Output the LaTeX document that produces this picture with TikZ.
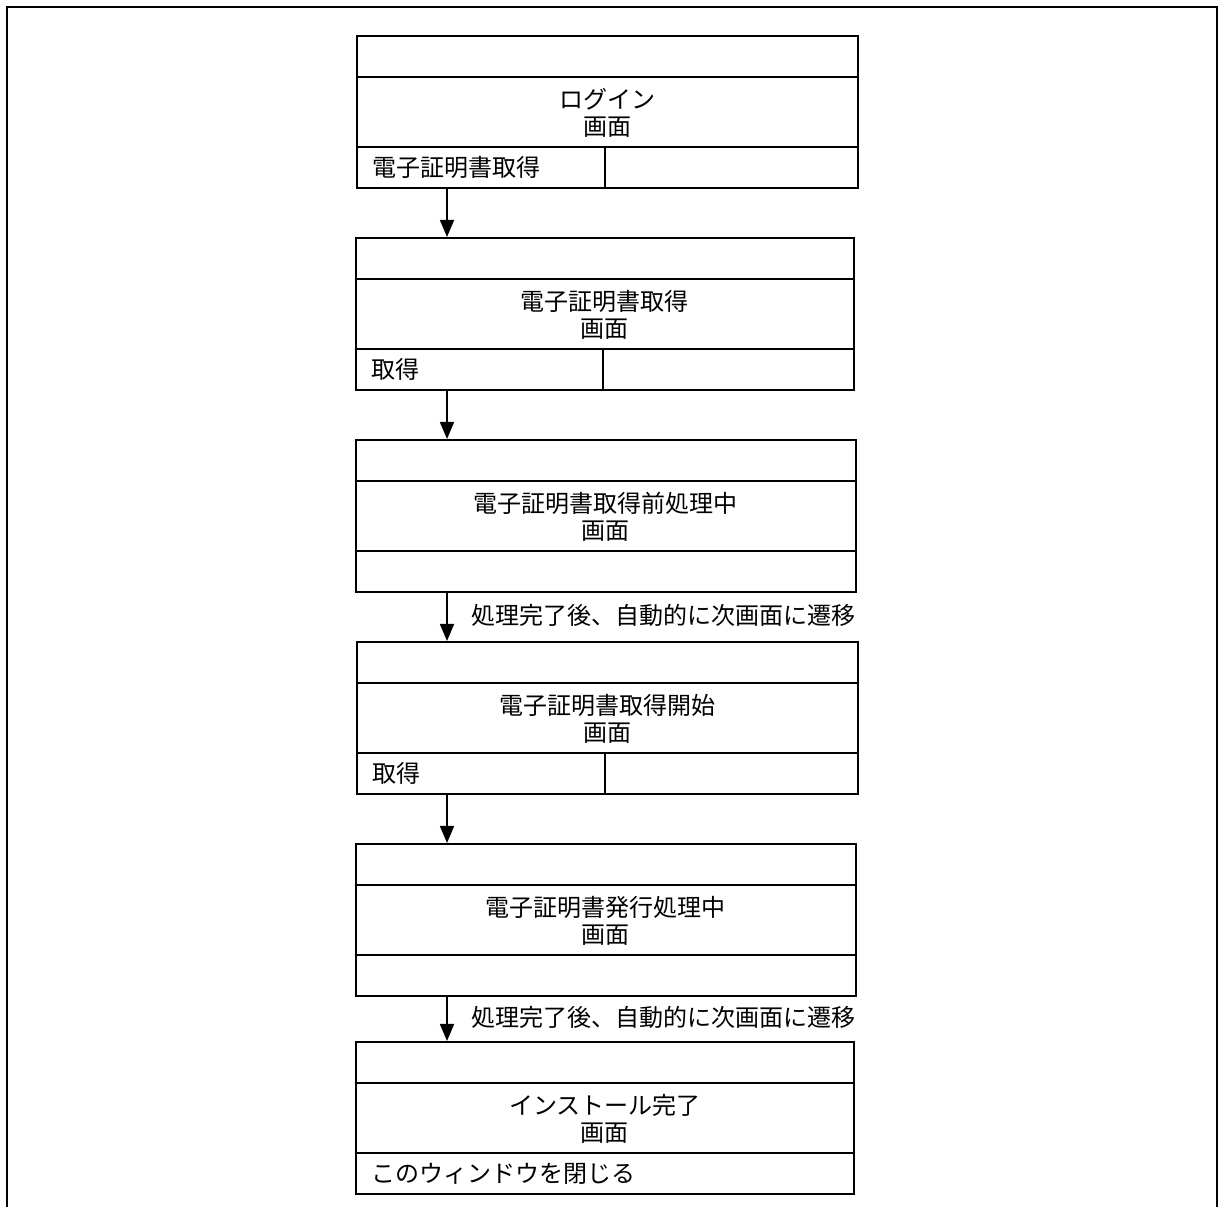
\documentclass[tikz,border=0pt]{standalone}
\usepackage{fontspec}
\newfontfamily\jp{Noto Sans CJK JP}
\usetikzlibrary{arrows.meta,positioning}
\tikzset{
  scr/.style={draw, line width=1.8pt, rectangle, minimum height=152pt, inner sep=0pt, anchor=north west},
  sep/.style={line width=1.8pt},
  ttl/.style={font=\jp\fontsize{24}{27}\selectfont, align=center, inner sep=0pt},
  btn/.style={font=\jp\fontsize{24}{27}\selectfont, anchor=west, inner sep=0pt},
  arr/.style={line width=1.8pt, -{Triangle[width=14pt,length=17pt]}},
  lbl/.style={font=\jp\fontsize{24}{27}\selectfont, anchor=west, inner sep=0pt},
  frm/.style={line width=2pt}
}
\begin{document}
\begin{tikzpicture}[x=1pt,y=1pt]
\useasboundingbox (0,0) rectangle (1219,1207);
% outer frame (open at bottom)
\coordinate (f1) at (7,0);
\coordinate (f2) at (7,1200);
\coordinate (f3) at (1217,1200);
\coordinate (f4) at (1217,0);
\draw[frm] (f1) -- (f2) -- (f3) -- (f4);

% boxes
\node[scr, minimum width=501pt] (b1) at (356,1172) {};
\node[scr, minimum width=498pt] (b2) at (355,970) {};
\node[scr, minimum width=500pt] (b3) at (355,768) {};
\node[scr, minimum width=501pt] (b4) at (356,566) {};
\node[scr, minimum width=500pt] (b5) at (355,364) {};
\node[scr, minimum width=498pt] (b6) at (355,166) {};

\foreach \b in {b1,b2,b3,b4,b5,b6}{
  \draw[sep] ([yshift=-42pt]\b.north west) -- ([yshift=-42pt]\b.north east);
  \draw[sep] ([yshift=42pt]\b.south west) -- ([yshift=42pt]\b.south east);
}
% vertical dividers in button rows
\draw[sep] ([xshift=249pt]b1.south west) -- ([xshift=249pt,yshift=42pt]b1.south west);
\draw[sep] ([xshift=248pt]b2.south west) -- ([xshift=248pt,yshift=42pt]b2.south west);
\draw[sep] ([xshift=249pt]b4.south west) -- ([xshift=249pt,yshift=42pt]b4.south west);

% titles
\node[ttl] (t1) at ([yshift=-78pt]b1.north) {ログイン\\画面};
\node[ttl] (t2) at ([yshift=-78pt]b2.north) {電子証明書取得\\画面};
\node[ttl] (t3) at ([yshift=-78pt]b3.north) {電子証明書取得前処理中\\画面};
\node[ttl] (t4) at ([yshift=-78pt]b4.north) {電子証明書取得開始\\画面};
\node[ttl] (t5) at ([yshift=-78pt]b5.north) {電子証明書発行処理中\\画面};
\node[ttl] (t6) at ([yshift=-78pt]b6.north) {インストール完了\\画面};

% button labels
\node[btn] (k1) at ([xshift=16pt,yshift=21pt]b1.south west) {電子証明書取得};
\node[btn] (k2) at ([xshift=16pt,yshift=21pt]b2.south west) {取得};
\node[btn] (k4) at ([xshift=16pt,yshift=21pt]b4.south west) {取得};
\node[btn] (k6) at ([xshift=16pt,yshift=21pt]b6.south west) {このウィンドウを閉じる};

% arrows
\draw[arr] ([xshift=91pt]b1.south west) -- ([xshift=91pt]b1.south west |- b2.north);
\draw[arr] ([xshift=92pt]b2.south west) -- ([xshift=92pt]b2.south west |- b3.north);
\draw[arr] ([xshift=92pt]b3.south west) -- ([xshift=92pt]b3.south west |- b4.north)
  node[lbl, pos=0.46, xshift=24pt] (l3) {処理完了後、自動的に次画面に遷移};
\draw[arr] ([xshift=91pt]b4.south west) -- ([xshift=91pt]b4.south west |- b5.north);
\draw[arr] ([xshift=92pt]b5.south west) -- ([xshift=92pt]b5.south west |- b6.north)
  node[lbl, pos=0.47, xshift=24pt] (l5) {処理完了後、自動的に次画面に遷移};
\end{tikzpicture}
\end{document}
